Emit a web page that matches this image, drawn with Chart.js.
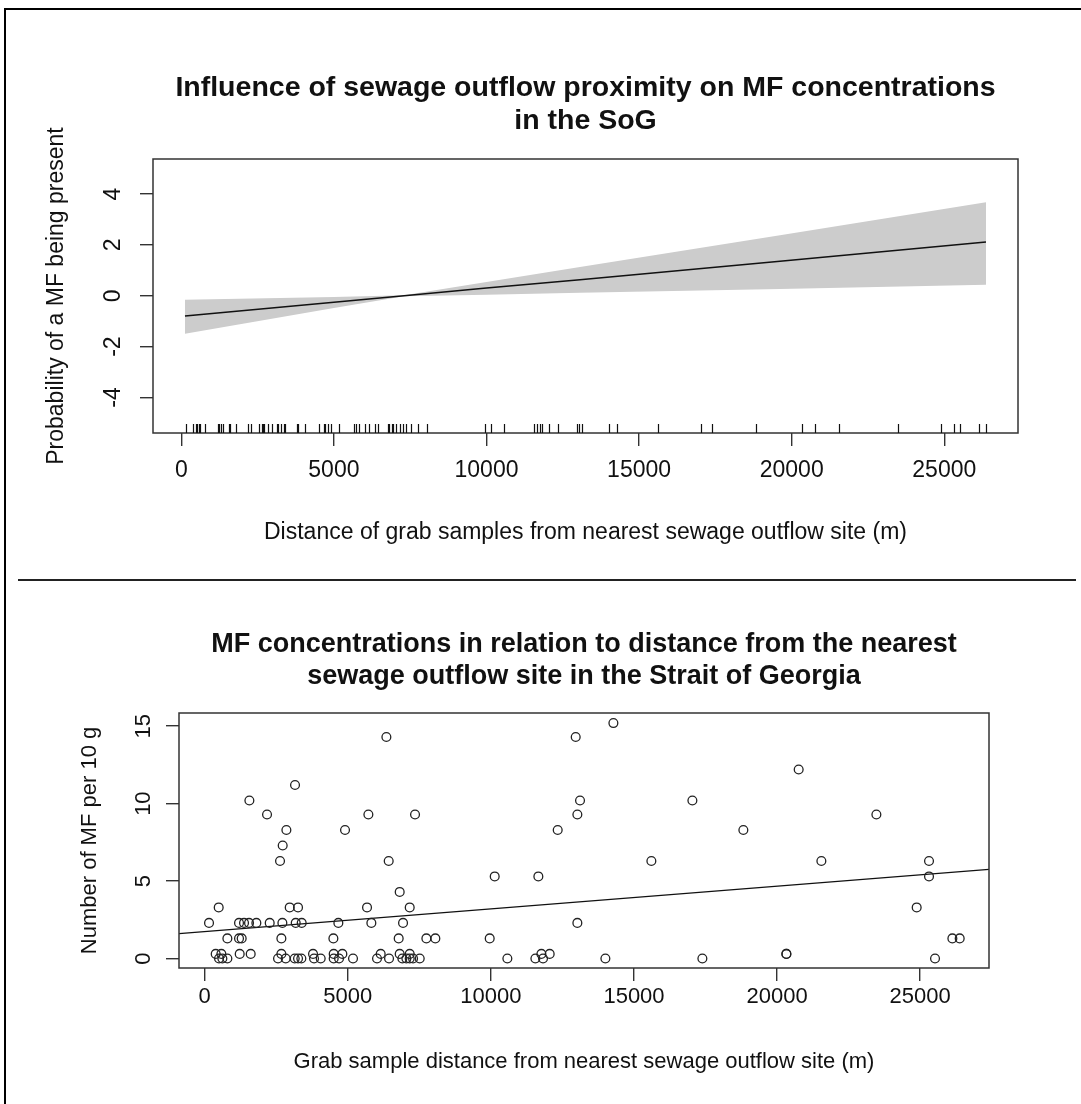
<!DOCTYPE html>
<html>
<head>
<meta charset="utf-8">
<title>MF concentrations and sewage outflow distance</title>
<script src="https://cdn.jsdelivr.net/npm/chart.js@4.4.1/dist/chart.umd.min.js"></script>
<style>
  html, body { margin: 0; padding: 0; background: #fff; }
  body { width: 1081px; height: 1104px; position: relative; overflow: hidden; }
  canvas { position: absolute; left: 0; }
  #top { top: 0; }
  #bottom { top: 582px; }
  .frame { position: absolute; left: 4px; top: 8px; width: 1077px; height: 1096px;
           border-top: 2px solid #000; border-left: 2px solid #000; box-sizing: border-box; z-index: 2; }
  .divider { position: absolute; left: 18px; top: 579px; width: 1058px; height: 2px; background: #222; z-index: 2; }
</style>
</head>
<body>
<div class="frame"></div>
<div class="divider"></div>
<canvas id="top" width="1081" height="580"></canvas>
<canvas id="bottom" width="1081" height="522"></canvas>
<script>
// ---- axis ticks ----
const xTicks = [0, 5000, 10000, 15000, 20000, 25000];
const effectYTicks = [-4, -2, 0, 2, 4];
const countYTicks = [0, 5, 10, 15];

// ---- smooth term of distance (fit and confidence band) ----
const termX     = [121, 5000, 7300, 10000, 13063, 19617, 26366];
const termFit   = [-0.80, -0.26, 0.00, 0.30, 0.63, 1.36, 2.11];
const termUpper = [-0.16, -0.05, 0.02, 0.54, 1.13, 2.38, 3.68];
const termLower = [-1.50, -0.48, -0.02, 0.04, 0.12, 0.27, 0.43];

// ---- grab samples: distance to nearest outfall (m) and MF per 10 g ----
const sampleDistance = [
  14280,
  6348, 12963,
  20754,
  3156,
  1561, 13114, 17040,
  2178, 5719, 7349, 13021, 23469,
  2854, 4903, 12334, 18821,
  2725,
  2632, 6429, 15607, 21547, 25308,
  10133, 11658, 25308,
  6813,
  489, 2970, 3261, 5672, 7163, 24877,
  151, 1199, 1374, 1549, 1805, 2271, 2714, 3180, 3389, 4670, 5823, 6930, 13021,
  792, 1199, 1292, 2679, 4496, 6778, 7745, 8059, 9958, 26124, 26380,
  384, 582, 1223, 1607, 2679, 3785, 4507, 4810, 6149, 6813, 7163, 11764, 12054, 20324, 20324,
  500, 617, 792, 2562, 2830, 3145, 3261, 3377, 3820, 4053, 4507, 4694, 5182, 6021, 6441,
  6906, 7046, 7163, 7280, 7513, 10575, 11554, 11821, 14000, 17389, 25518
];
const sampleMF = [
  15.2,
  14.3, 14.3,
  12.2,
  11.2,
  10.2, 10.2, 10.2,
  9.3, 9.3, 9.3, 9.3, 9.3,
  8.3, 8.3, 8.3, 8.3,
  7.3,
  6.3, 6.3, 6.3, 6.3, 6.3,
  5.3, 5.3, 5.3,
  4.3,
  3.3, 3.3, 3.3, 3.3, 3.3, 3.3,
  2.3, 2.3, 2.3, 2.3, 2.3, 2.3, 2.3, 2.3, 2.3, 2.3, 2.3, 2.3, 2.3,
  1.3, 1.3, 1.3, 1.3, 1.3, 1.3, 1.3, 1.3, 1.3, 1.3, 1.3,
  0.3, 0.3, 0.3, 0.3, 0.3, 0.3, 0.3, 0.3, 0.3, 0.3, 0.3, 0.3, 0.3, 0.3, 0.3,
  0, 0, 0, 0, 0, 0, 0, 0, 0, 0, 0, 0, 0, 0, 0,
  0, 0, 0, 0, 0, 0, 0, 0, 0, 0, 0
];

// least-squares line through the samples (intercept, slope)
const trendCoef = [1.74, 0.0001466];

const FONT = '"Liberation Sans", Arial, Helvetica, sans-serif';

// R-style base graphics panel: box, rug, rotated y labels and titles
const rPanel = {
  id: 'rPanel',
  afterDraw(chart, args, o) {
    const { ctx, chartArea: a, scales: { x, y } } = chart;
    ctx.save();
    ctx.strokeStyle = '#333';
    ctx.lineWidth = 1.5;
    ctx.strokeRect(a.left, a.top, a.right - a.left, a.bottom - a.top);

    if (o.rug) {
      ctx.strokeStyle = '#111';
      ctx.lineWidth = 1.2;
      ctx.beginPath();
      o.rug.forEach(v => {
        const px = Math.round(x.getPixelForValue(v)) + 0.5;
        ctx.moveTo(px, a.bottom);
        ctx.lineTo(px, a.bottom - o.rugLength);
      });
      ctx.stroke();
    }

    ctx.fillStyle = '#111';
    const cx = (a.left + a.right) / 2;
    ctx.textAlign = 'center';
    ctx.textBaseline = 'middle';
    ctx.font = `bold ${o.titleSize}px ${FONT}`;
    o.title.forEach((t, i) => ctx.fillText(t, cx, o.titleY[i]));

    ctx.font = `${o.tickSize}px ${FONT}`;
    o.xTicks.forEach(v => ctx.fillText(String(v), x.getPixelForValue(v), o.xLabelY));

    ctx.font = `${o.axisSize}px ${FONT}`;
    ctx.fillText(o.xTitle, cx, o.xTitleY);

    ctx.textBaseline = 'alphabetic';
    ctx.font = `${o.tickSize}px ${FONT}`;
    o.yTicks.forEach(v => {
      ctx.save();
      ctx.translate(o.yLabelX, y.getPixelForValue(v));
      ctx.rotate(-Math.PI / 2);
      ctx.fillText(String(v), 0, 0);
      ctx.restore();
    });

    ctx.font = `${o.axisSize}px ${FONT}`;
    ctx.save();
    ctx.translate(o.yTitleX, (a.top + a.bottom) / 2);
    ctx.rotate(-Math.PI / 2);
    ctx.fillText(o.yTitle, 0, 0);
    ctx.restore();
    ctx.restore();
  }
};

function axis(min, max, ticks, fit) {
  return {
    type: 'linear',
    min, max,
    afterBuildTicks: s => { s.ticks = ticks.map(v => ({ value: v })); },
    afterFit: fit,
    ticks: { display: false },
    grid: { drawOnChartArea: false, drawTicks: true, tickLength: 13, color: '#333', lineWidth: 1.4 },
    border: { display: false }
  };
}

const pts = (xs, ys) => xs.map((v, i) => ({ x: v, y: ys[i] }));

// ---- upper panel: partial effect of distance ----
new Chart(document.getElementById('top'), {
  type: 'line',
  data: {
    datasets: [
      { data: pts(termX, termUpper), borderWidth: 0, pointRadius: 0, fill: '+1', backgroundColor: '#cccccc', order: 2 },
      { data: pts(termX, termLower), borderWidth: 0, pointRadius: 0, fill: false, order: 2 },
      { data: pts(termX, termFit), borderColor: '#111', borderWidth: 1.5, pointRadius: 0, fill: false, order: 0 }
    ]
  },
  options: {
    responsive: false, animation: false, devicePixelRatio: 1,
    layout: { padding: { left: 0, right: 63, top: 159, bottom: 0 } },
    plugins: {
      legend: { display: false }, tooltip: { enabled: false },
      rPanel: {
        title: ['Influence of sewage outflow proximity on MF concentrations', 'in the SoG'],
        titleY: [88, 121], titleSize: 28.5,
        xTicks, yTicks: effectYTicks,
        tickSize: 23, axisSize: 23,
        xLabelY: 471, xTitle: 'Distance of grab samples from nearest sewage outflow site (m)', xTitleY: 533,
        yLabelX: 120, yTitle: 'Probability of a MF being present', yTitleX: 63,
        rug: sampleDistance, rugLength: 9
      }
    },
    scales: {
      x: axis(-927, 27415, xTicks, s => { s.height = 147; }),
      y: axis(-5.40, 5.38, effectYTicks, s => { s.width = 153; })
    }
  },
  plugins: [rPanel]
});

// ---- lower panel: raw counts with linear trend ----
new Chart(document.getElementById('bottom'), {
  type: 'scatter',
  data: {
    datasets: [
      { data: pts(sampleDistance, sampleMF), pointStyle: 'circle', pointRadius: 4.4,
        borderColor: '#222', borderWidth: 1.3, backgroundColor: 'rgba(0,0,0,0)' },
      { type: 'line', data: [-898, 27404].map(v => ({ x: v, y: trendCoef[0] + trendCoef[1] * v })),
        borderColor: '#111', borderWidth: 1.4, pointRadius: 0, fill: false }
    ]
  },
  options: {
    responsive: false, animation: false, devicePixelRatio: 1,
    layout: { padding: { left: 0, right: 92, top: 131, bottom: 0 } },
    plugins: {
      legend: { display: false }, tooltip: { enabled: false },
      rPanel: {
        title: ['MF concentrations in relation to distance from the nearest', 'sewage outflow site in the Strait of Georgia'],
        titleY: [63, 95], titleSize: 27,
        xTicks, yTicks: countYTicks,
        tickSize: 22, axisSize: 22,
        xLabelY: 415, xTitle: 'Grab sample distance from nearest sewage outflow site (m)', xTitleY: 480,
        yLabelX: 150, yTitle: 'Number of MF per 10 g', yTitleX: 96
      }
    },
    scales: {
      x: axis(-898, 27404, xTicks, s => { s.height = 136; }),
      y: axis(-0.61, 15.85, countYTicks, s => { s.width = 179; })
    }
  },
  plugins: [rPanel]
});
</script>
</body>
</html>
